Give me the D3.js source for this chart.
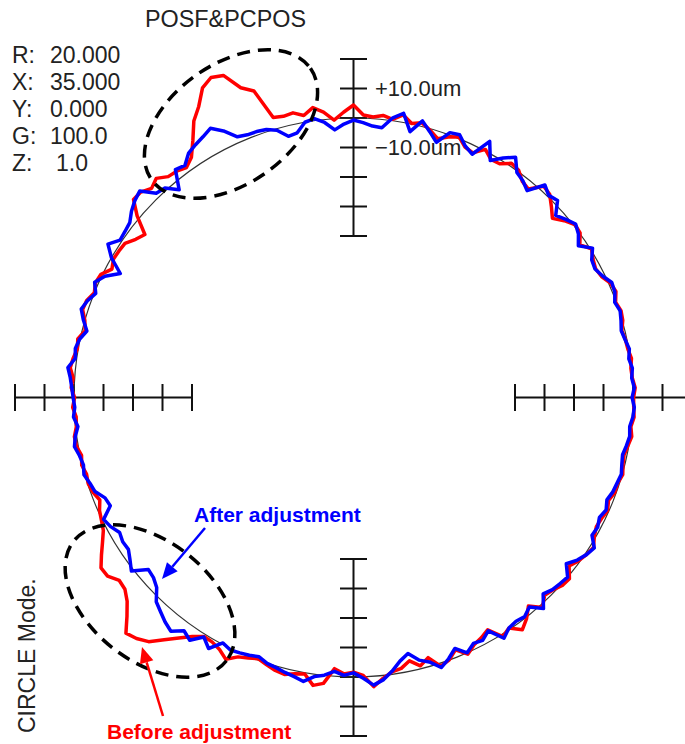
<!DOCTYPE html>
<html>
<head>
<meta charset="utf-8">
<script src="https://cdn.jsdelivr.net/npm/d3@7"></script>
<style>
  html, body { margin: 0; padding: 0; background: #fff; }
  svg { display: block; }
  text { font-family: "Liberation Sans", Arial, sans-serif; }
</style>
</head>
<body>
<svg id="chart" width="685" height="744"></svg>
<script>
// ---- data (angle in degrees, CCW from +X; deviation in um) ----
const angles = [0,2,4,6,8,10,12,14,16,18,20,22,24,26,28,30,32,34,36,38,40,42,44,46,48,50,52,54,56,58,
  60,62,64,66,68,70,72,74,76,78,80,82,84,86,88,90,92,94,96,98,100,102,104,106,108,110,112,114,116,118,
  120,122,124,126,128,130,132,134,136,138,140,142,144,146,148,150,152,154,156,158,160,162,164,166,168,170,172,174,176,178,
  180,182,184,186,188,190,192,194,196,198,200,202,204,206,208,210,212,214,216,218,220,222,224,226,228,230,232,234,236,238,
  240,242,244,246,248,250,252,254,256,258,260,262,264,266,268,270,272,274,276,278,280,282,284,286,288,290,292,294,296,298,
  300,302,304,306,308,310,312,314,316,318,320,322,324,326,328,330,332,334,336,338,340,342,344,346,348,350,352,354,356,358];

const afterDev = [
  -0.3,0.5,-0.2,0.3,-0.5,0.2,-0.6,-1.2,-0.4,0.3,-0.5,0.8,1.1,-0.8,-2.0,-1.5,
  0.8,-2.8,-0.5,0.8,-0.8,-2.5,1.4,0.5,2.2,-3.2,-1.5,-0.5,3.5,1.0,-2.0,
  3.6,-3.0,-1.5,1.3,0.8,-3.8,-1.0,1.9,-2.6,3.1,
  1.0,-2.8,-2.5,-1.5,-0.7,-2.0,-3.8,-1.0,0.7,0.0,
  -3.0,-3.5,-0.5,0.8,1.2,1.3,2.0,5.8,8.6,7.3,6.3,5.2,2.5,3.3,-2.8,0.8,1.5,6.0,5.0,3.5,1.5,1.0,0.7,3.4,0.0,-5.2,-1.0,1.3,
  -0.5,1.2,2.3,0.5,-1.6,0.2,1.0,0.5,2.6,1.5,0.8,0.3,-0.2,0.4,-0.8,0.5,1.3,0.2,-0.4,0.3,-0.8,
  -1.5,-3.9,-4.5,-0.5,-1.5,-3.2,-2.5,-2.7,-1.1,0.8,-4.0,-3.5,-2.0,1.5,3.0,4.6,5.8,3.0,4.5,1.0,3.5,-0.5,0.5,0.0,-0.5,-1.2,0.0,0.5,1.3,2.0,
  3.0,0.8,-0.1,-1.7,-0.5,-1.4,0.5,3.0,1.5,-1.0,-4.0,
  -6.0,-3.0,-1.5,1.5,-0.5,-3.0,0.0,-2.0,-1.5,-3.4,1.5,-0.5,-1.0,-0.5,-2.0,1.5,-2.2,-1.0,-0.5,0.0,
  -3.2,-1.0,0.5,1.5,-1.4,-1.0,-2.0,-1.0,-2.1,-1.2,-0.8,-0.3,-1.0,-1.5,-0.8,-0.2,-0.6,0.2,0.5];

const beforeDev = [
  0.2,0.8,0.0,-0.2,0.4,-0.3,-0.5,-1.0,0.2,0.6,-0.2,1.2,0.6,-1.2,-1.8,-1.0,
  0.4,-2.2,0.2,0.5,-1.5,-4.0,-1.5,1.0,1.6,-2.5,-1.8,0.5,1.0,-1.3,-1.6,
  0.5,-2.5,-1.8,0.6,-0.8,-2.5,-0.5,1.2,0.2,2.5,
  0.5,1.4,0.6,1.1,4.4,2.0,-0.5,2.5,4.5,2.3,
  3.9,3.5,4.0,14.5,17.0,23.0,24.0,22.0,17.0,13.5,8.0,3.5,1.6,2.6,3.0,5.2,3.8,5.5,5.6,1.0,-5.0,-3.5,-1.3,-1.0,-0.8,-2.0,0.5,1.0,
  0.0,1.5,1.8,0.0,-1.0,0.8,0.3,1.2,1.8,0.5,1.0,-0.2,0.5,-0.5,-0.3,0.8,0.6,-0.5,0.2,-0.6,-0.2,
  -0.8,-2.0,-0.5,0.3,1.3,3.5,6.0,8.5,8.3,6.0,6.4,8.5,12.0,16.3,15.2,13.3,9.5,6.0,3.0,0.8,1.0,2.0,4.0,1.5,0.5,-0.5,0.5,1.5,2.0,1.0,
  0.4,3.8,2.7,-2.6,-1.0,-1.6,-0.5,3.5,1.0,-0.8,-1.5,
  -3.5,-1.0,-3.0,1.0,0.0,-2.5,0.5,-1.5,-2.5,-3.8,0.8,-0.5,2.6,0.5,-2.5,1.0,-1.5,-0.8,0.5,0.8,
  -2.0,-0.5,0.5,1.2,-0.5,-1.5,-1.2,-0.5,-1.5,-0.5,-0.6,0.2,-0.6,-1.0,-0.3,0.5,-0.2,0.6,0.3];

const axisTicks = [-40, -30, -20, -10, 0, 10, 20];   // um
const axisDirections = [90, 270, 180, 0];           // degrees
const scaleLabels = [{v: 10, text: "+10.0um"}, {v: -10, text: "\u221210.0um"}];
const infoLabels = ["R:", "X:", "Y:", "G:", "Z:"];
const infoValues = ["20.000", "35.000", "0.000", "100.0", "1.0"];
const titleText = "POSF&PCPOS";
const modeText = "CIRCLE Mode.";

// ---- layout ----
const svg = d3.select("#chart");
const cx = 353.5, cy = 397.5, R = 279.5;
const rScale = d3.scaleLinear().domain([-10, 10]).range([R - 29.5, R + 29.5]);
const toRad = d => d * Math.PI / 180;
const g = svg.append("g").attr("transform", `translate(${cx},${cy})`);

// axes (cross-tick scales)
const tickHalf = 13.5;
axisDirections.forEach(dir => {
  const ux = Math.cos(toRad(dir)), uy = -Math.sin(toRad(dir));
  const r0 = rScale(axisTicks[0]), r1 = rScale(axisTicks[axisTicks.length - 1]);
  g.append("line")
    .attr("x1", ux * r0).attr("y1", uy * r0)
    .attr("x2", ux * r1).attr("y2", uy * r1)
    .attr("stroke", "#111").attr("stroke-width", 2);
  axisTicks.forEach(t => {
    const r = rScale(t);
    const px = -uy, py = ux; // perpendicular
    g.append("line")
      .attr("x1", ux * r + px * tickHalf).attr("y1", uy * r + py * tickHalf)
      .attr("x2", ux * r - px * tickHalf).attr("y2", uy * r - py * tickHalf)
      .attr("stroke", "#111").attr("stroke-width", 2);
  });
});

// scale labels on the top axis
scaleLabels.forEach(l => {
  g.append("text")
    .attr("x", 375 - cx)
    .attr("y", -rScale(l.v) + 7)
    .attr("font-size", 22)
    .attr("fill", "#222")
    .text(l.text);
});

// title & info
svg.append("text").attr("x", 145).attr("y", 27).attr("font-size", 23)
  .attr("fill", "#222").attr("textLength", 161).attr("lengthAdjust", "spacingAndGlyphs").text(titleText);
infoLabels.forEach((lab, i) => {
  const y = 63 + i * 27;
  svg.append("text").attr("x", 12).attr("y", y).attr("font-size", 23).attr("fill", "#222").text(lab);
  svg.append("text").attr("x", i === 4 ? 56 : 50).attr("y", y).attr("font-size", 23).attr("fill", "#222").text(infoValues[i]);
});
svg.append("text")
  .attr("transform", "translate(35,733) rotate(-90)")
  .attr("font-size", 23).attr("fill", "#222").text(modeText);

// reference circle
g.append("circle").attr("r", rScale(0)).attr("fill", "none").attr("stroke", "#333").attr("stroke-width", 1.2);

// traces
const radial = dev => d3.lineRadial()
  .angle((a, i) => toRad(90 - a))
  .radius((a, i) => rScale(dev[i]))
  .curve(d3.curveLinearClosed);

g.append("path").attr("d", radial(beforeDev)(angles))
  .attr("fill", "none").attr("stroke", "#ff0000").attr("stroke-width", 3.5).attr("stroke-linejoin", "round");
g.append("path").attr("d", radial(afterDev)(angles))
  .attr("fill", "none").attr("stroke", "#0000ff").attr("stroke-width", 3.5).attr("stroke-linejoin", "round");

// annotations: dashed ellipses
const ellipses = [
  {x: 231, y: 124, rx: 97, ry: 60, rot: -35},
  {x: 150, y: 601, rx: 97, ry: 60, rot: 38}
];
ellipses.forEach(e => {
  svg.append("ellipse")
    .attr("transform", `translate(${e.x},${e.y}) rotate(${e.rot})`)
    .attr("rx", e.rx).attr("ry", e.ry)
    .attr("fill", "none").attr("stroke", "#000").attr("stroke-width", 3.5)
    .attr("stroke-dasharray", "13,8");
});

// arrows + labels
const arrows = [
  {x1: 205, y1: 528, x2: 162, y2: 579, color: "#0000ff"},
  {x1: 163, y1: 716, x2: 142, y2: 647, color: "#ff0000"}
];
arrows.forEach(a => {
  const ang = Math.atan2(a.y2 - a.y1, a.x2 - a.x1);
  const hl = 16, hw = 7;
  const bx = a.x2 - hl * Math.cos(ang), by = a.y2 - hl * Math.sin(ang);
  svg.append("line").attr("x1", a.x1).attr("y1", a.y1).attr("x2", bx).attr("y2", by)
    .attr("stroke", a.color).attr("stroke-width", 2.5);
  const pts = [[a.x2, a.y2],
    [bx + hw * Math.sin(ang), by - hw * Math.cos(ang)],
    [bx - hw * Math.sin(ang), by + hw * Math.cos(ang)]];
  svg.append("polygon").attr("points", pts.map(p => p.join(",")).join(" ")).attr("fill", a.color);
});
svg.append("text").attr("x", 194).attr("y", 522).attr("font-size", 21).attr("font-weight", "bold")
  .attr("fill", "#0000ff").text("After adjustment");
svg.append("text").attr("x", 107).attr("y", 739).attr("font-size", 21).attr("font-weight", "bold")
  .attr("fill", "#ff0000").text("Before adjustment");
</script>
</body>
</html>
